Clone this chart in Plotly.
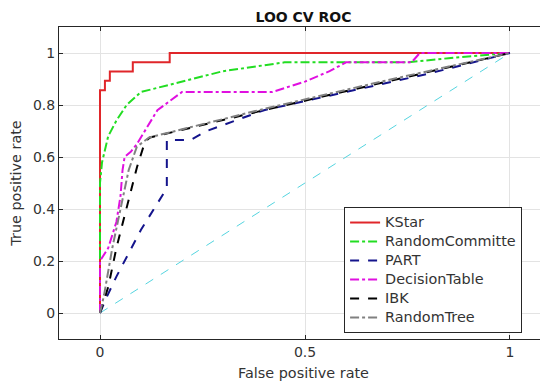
import plotly.graph_objects as go

# Data
kstar_fpr = [0, 0, 0.012, 0.012, 0.024, 0.024, 0.08, 0.08, 0.17, 0.17, 1]
kstar_tpr = [0, 0.857, 0.857, 0.893, 0.893, 0.929, 0.929, 0.964, 0.964, 1, 1]

rc_fpr = [0, 0, 0.005, 0.02, 0.04, 0.065, 0.1, 0.2, 0.3, 0.45, 0.75, 0.85, 1]
rc_tpr = [0, 0.5, 0.58, 0.68, 0.74, 0.8, 0.85, 0.89, 0.93, 0.964, 0.964, 0.98, 1]

part_fpr = [0, 0.016, 0.04, 0.1, 0.163, 0.163, 0.22, 0.26, 0.4, 0.6, 0.8, 1]
part_tpr = [0, 0.06, 0.14, 0.32, 0.48, 0.665, 0.665, 0.7, 0.78, 0.85, 0.92, 1]

dt_fpr = [0, 0, 0.02, 0.04, 0.05, 0.055, 0.06, 0.075, 0.09, 0.11, 0.14, 0.2, 0.42, 0.5, 0.56, 0.6, 0.76, 0.78, 1]
dt_tpr = [0, 0.2, 0.25, 0.35, 0.45, 0.55, 0.6, 0.62, 0.65, 0.7, 0.78, 0.85, 0.85, 0.89, 0.93, 0.964, 0.964, 1, 1]

ibk_fpr = [0, 0.02, 0.04, 0.065, 0.09, 0.11, 0.122, 0.4, 0.7, 1]
ibk_tpr = [0, 0.1, 0.25, 0.41, 0.56, 0.66, 0.675, 0.78, 0.89, 1]

rt_fpr = [0, 0.01, 0.03, 0.05, 0.07, 0.09, 0.12, 0.4, 0.7, 1]
rt_tpr = [0, 0.07, 0.25, 0.4, 0.55, 0.64, 0.675, 0.785, 0.895, 1]

diag_fpr = [0, 1]
diag_tpr = [0, 1]

names = ["KStar", "RandomCommitte", "PART", "DecisionTable", "IBK", "RandomTree"]
xs = [kstar_fpr, rc_fpr, part_fpr, dt_fpr, ibk_fpr, rt_fpr]
ys = [kstar_tpr, rc_tpr, part_tpr, dt_tpr, ibk_tpr, rt_tpr]
colors = ["#e0262a", "#22dd22", "#14148c", "#e010e0", "#000000", "#808080"]
dashes = ["solid", "dashdot", "dash", "dashdot", "dash", "dashdot"]

x_ticks = [0, 0.5, 1]
x_tick_text = ["0", "0.5", "1"]
y_ticks = [0, 0.2, 0.4, 0.6, 0.8, 1]
y_tick_text = ["0", "0.2", "0.4", "0.6", "0.8", "1"]

fig = go.Figure()
fig.add_trace(go.Scatter(x=diag_fpr, y=diag_tpr, mode="lines", showlegend=False,
                         line=dict(color="#55d5e0", width=1, dash="dash")))
for name, x, y, c, d in zip(names, xs, ys, colors, dashes):
    fig.add_trace(go.Scatter(x=x, y=y, mode="lines",
                             name='<span style="font-size:14.4px">%s</span>' % name,
                             line=dict(color=c, width=2, dash=d)))

axis_common = dict(showgrid=True, gridcolor="#e3e3e3", gridwidth=1, zeroline=False,
                   showline=True, linecolor="#262626", linewidth=1, mirror="ticks",
                   ticks="inside", ticklen=4, tickcolor="#262626",
                   tickfont=dict(size=14, color="#333333"))
fig.update_xaxes(range=[-0.1, 1.0927], tickvals=x_ticks, ticktext=x_tick_text,
                 title=dict(text="False positive rate", font=dict(size=14.4, color="#333333"), standoff=9),
                 **axis_common)
fig.update_yaxes(range=[-0.1, 1.1], tickvals=y_ticks, ticktext=y_tick_text,
                 title=dict(text="True positive rate", font=dict(size=14.4, color="#333333"), standoff=13),
                 **axis_common)
fig.update_layout(
    width=540, height=373,
    margin=dict(l=51, r=0, t=19, b=42),
    paper_bgcolor="white", plot_bgcolor="white",
    font=dict(family="DejaVu Sans", size=12, color="#333333"),
    title=dict(text="<b>LOO CV ROC</b>", x=0.5, xanchor="center", xref="paper",
               y=1 - 9 / 373, yanchor="middle", yref="container",
               font=dict(size=14, color="#111111")),
    legend=dict(x=0.583, y=0.423, xanchor="left", yanchor="top",
                bgcolor="white", bordercolor="#262626", borderwidth=1,
                font=dict(size=12, color="#333333"), tracegroupgap=0),
)
fig.write_html("out.html")
